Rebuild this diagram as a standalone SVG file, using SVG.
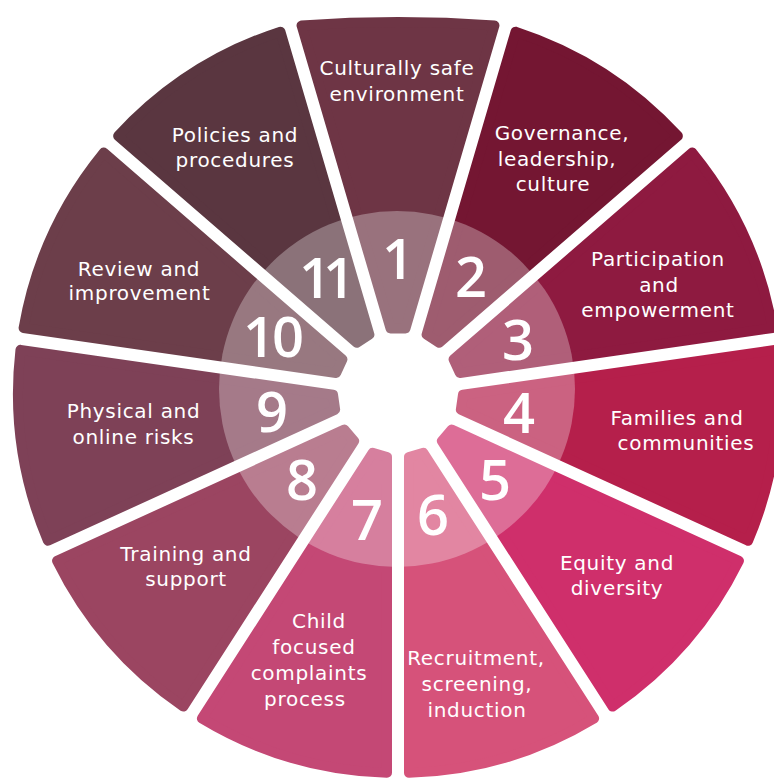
<svg xmlns="http://www.w3.org/2000/svg" width="774" height="780" viewBox="0 0 774 780">
<style>
.seg{stroke-width:10;stroke-linejoin:round}
.lbl{font-family:"DejaVu Sans",sans-serif;font-size:20px;fill:#fff;text-anchor:middle;letter-spacing:0.7px}
.num{font-family:"Open Sans",sans-serif;font-weight:600;font-size:56px;fill:#fff;text-anchor:middle}
</style>
<defs>
<path id="seg" d="M -7.50 -64.57 L -96.46 -367.55 A 380 380 0 0 1 96.46 -367.55 L 7.50 -64.57 Z"/>
</defs>
<rect width="774" height="780" fill="#fff"/>
<g id="node1">
<path class="seg" transform="translate(398 393)" d="M -7.50 -64.57 L -96.46 -367.55 A 1350 1350 0 0 1 96.46 -367.55 L 7.50 -64.57 Z" fill="#6e3545" stroke="#6e3545"/>
<text class="lbl" x="397" y="75">Culturally safe</text>
<text class="lbl" x="397" y="101">environment</text>
<text class="num" x="398" y="279">1</text>
</g>
<g id="node2">
<use href="#seg" class="seg" transform="translate(398 393) rotate(32.727)" fill="#741632" stroke="#741632"/>
<text class="lbl" x="562" y="140">Governance,</text>
<text class="lbl" x="557" y="166">leadership,</text>
<text class="lbl" x="553" y="191">culture</text>
<text class="num" x="471" y="297">2</text>
</g>
<g id="node3">
<use href="#seg" class="seg" transform="translate(398 393) rotate(65.455)" fill="#8e1a40" stroke="#8e1a40"/>
<text class="lbl" x="658" y="266">Participation</text>
<text class="lbl" x="659" y="292">and</text>
<text class="lbl" x="658" y="317">empowerment</text>
<text class="num" x="518" y="360">3</text>
</g>
<g id="node4">
<use href="#seg" class="seg" transform="translate(398 393) rotate(98.182)" fill="#b51f4b" stroke="#b51f4b"/>
<text class="lbl" x="677" y="425">Families and</text>
<text class="lbl" x="686" y="450">communities</text>
<text class="num" x="519" y="433">4</text>
</g>
<g id="node5">
<use href="#seg" class="seg" transform="translate(398 393) rotate(130.909)" fill="#cf2f6b" stroke="#cf2f6b"/>
<text class="lbl" x="617" y="570">Equity and</text>
<text class="lbl" x="617" y="595">diversity</text>
<text class="num" x="495" y="500">5</text>
</g>
<g id="node6">
<use href="#seg" class="seg" transform="translate(398 393) rotate(163.636)" fill="#d6527a" stroke="#d6527a"/>
<text class="lbl" x="476" y="665">Recruitment,</text>
<text class="lbl" x="477" y="691">screening,</text>
<text class="lbl" x="477" y="717">induction</text>
<text class="num" x="433" y="535">6</text>
</g>
<g id="node7">
<use href="#seg" class="seg" transform="translate(398 393) rotate(196.364)" fill="#c44875" stroke="#c44875"/>
<text class="lbl" x="319" y="628">Child</text>
<text class="lbl" x="314" y="654">focused</text>
<text class="lbl" x="309" y="680">complaints</text>
<text class="lbl" x="305" y="706">process</text>
<text class="num" x="367" y="540">7</text>
</g>
<g id="node8">
<use href="#seg" class="seg" transform="translate(398 393) rotate(229.091)" fill="#9b4561" stroke="#9b4561"/>
<text class="lbl" x="186" y="561">Training and</text>
<text class="lbl" x="186" y="586">support</text>
<text class="num" x="302" y="500">8</text>
</g>
<g id="node9">
<use href="#seg" class="seg" transform="translate(398 393) rotate(261.818)" fill="#7e4157" stroke="#7e4157"/>
<text class="lbl" x="133.5" y="418">Physical and</text>
<text class="lbl" x="133.5" y="444">online risks</text>
<text class="num" x="272" y="432">9</text>
</g>
<g id="node10">
<use href="#seg" class="seg" transform="translate(398 393) rotate(294.545)" fill="#6c3e4a" stroke="#6c3e4a"/>
<text class="lbl" x="139" y="276">Review and</text>
<text class="lbl" x="139.5" y="300">improvement</text>
<text class="num" x="272" y="357" letter-spacing="-3">10</text>
</g>
<g id="node11">
<use href="#seg" class="seg" transform="translate(398 393) rotate(327.273)" fill="#5a3640" stroke="#5a3640"/>
<text class="lbl" x="235" y="142">Policies and</text>
<text class="lbl" x="235" y="167">procedures</text>
<text class="num" x="323" y="298" letter-spacing="-8">11</text>
</g>
<circle id="overlay" cx="397" cy="389" r="178" fill="#fff" fill-opacity="0.3"/>
</svg>
